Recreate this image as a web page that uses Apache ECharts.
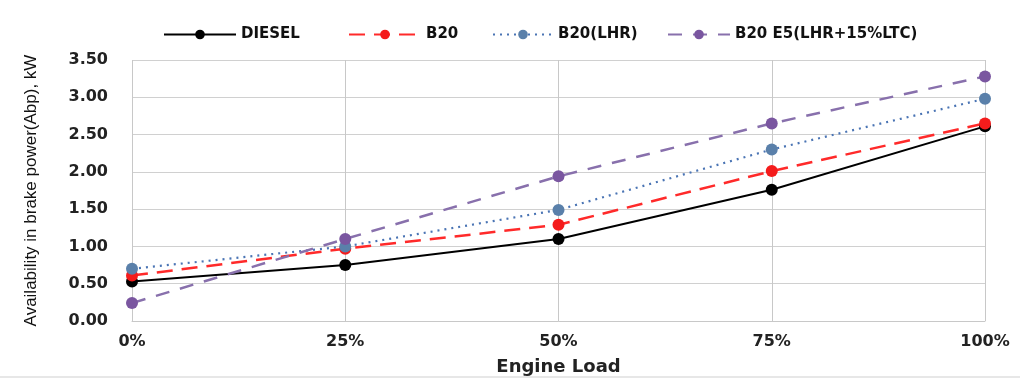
<!DOCTYPE html>
<html><head><meta charset="utf-8">
<script src="https://cdn.jsdelivr.net/npm/echarts@6/dist/echarts.min.js"></script>
<style>html,body{margin:0;padding:0;background:#fff}#c{width:1020px;height:381px}</style>
</head><body><div id="c"></div>
<script>
const categories = ['0%', '25%', '50%', '75%', '100%'];
const diesel = [0.53, 0.75, 1.10, 1.76, 2.61];
const b20 = [0.61, 0.97, 1.29, 2.01, 2.65];
const b20lhr = [0.70, 1.00, 1.49, 2.30, 2.98];
const b20e5 = [0.24, 1.10, 1.94, 2.65, 3.28];
const seriesNames = ['DIESEL', 'B20', 'B20(LHR)', 'B20 E5(LHR+15%LTC)'];

const chart = echarts.init(document.getElementById('c'));
function mk(name, data, color, symColor, type, width) {
  return {
    name, type: 'line', data,
    symbol: 'circle', symbolSize: 12,
    itemStyle: { color: symColor },
    lineStyle: { color, type, width },
    z: 3
  };
}
const legendLefts = [158, 343, 487, 662];
const legendWidths = [72, 72, 60, 62];
const legends = seriesNames.map((n, i) => ({
  top: 22, left: legendLefts[i],
  itemWidth: legendWidths[i], itemHeight: 12, itemGap: 10,
  textStyle: { fontFamily: 'DejaVu Sans', fontWeight: 'bold', fontSize: 15, color: '#111' },
  data: [n]
}));
chart.setOption({
  animation: false,
  legend: legends,
  grid: { left: 132, right: 35, top: 60, bottom: 58 },
  xAxis: {
    type: 'category', data: categories, boundaryGap: false,
    name: 'Engine Load', nameLocation: 'middle', nameGap: 37,
    nameTextStyle: { fontFamily: 'DejaVu Sans', fontWeight: 'bold', fontSize: 18, color: '#222' },
    axisLine: { show: true, lineStyle: { color: '#c8c8c8' } },
    axisTick: { show: false },
    axisLabel: { fontFamily: 'DejaVu Sans', fontWeight: 'bold', fontSize: 16, color: '#222', margin: 13 },
    splitLine: { show: true, lineStyle: { color: '#c8c8c8', width: 1 } }
  },
  yAxis: {
    type: 'value', min: 0, max: 3.5, interval: 0.5,
    name: 'Availability in brake power(Abp), kW', nameLocation: 'middle', nameGap: 92,
    nameTextStyle: { fontFamily: 'Liberation Sans', fontSize: 17, color: '#111' },
    axisLine: { show: false }, axisTick: { show: false },
    axisLabel: { fontFamily: 'DejaVu Sans', fontWeight: 'bold', fontSize: 16, color: '#222', margin: 24,
      formatter: v => v.toFixed(2) },
    splitLine: { lineStyle: { color: '#d0d0d0', width: 1 } }
  },
  graphic: [{ type: 'line', shape: { x1: 0, y1: 377, x2: 1020, y2: 377 }, style: { stroke: '#cfcfcf', lineWidth: 1 } }],
  series: [
    mk(seriesNames[0], diesel, '#000000', '#000000', 'solid', 2),
    mk(seriesNames[1], b20, '#ff2a2a', '#f41c1c', [16, 9], 2.5),
    mk(seriesNames[2], b20lhr, '#4a74b4', '#5a80aa', [2, 5], 2.2),
    mk(seriesNames[3], b20e5, '#8870ac', '#7a56a0', [14, 11], 2.5)
  ]
});
</script></body></html>
